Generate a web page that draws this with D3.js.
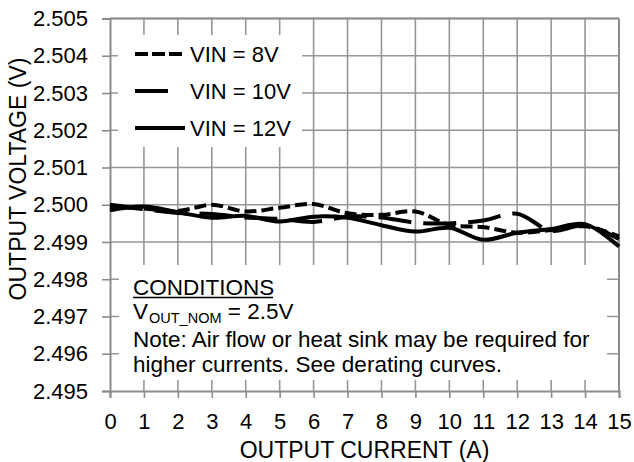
<!DOCTYPE html>
<html>
<head>
<meta charset="utf-8">
<script src="https://cdn.jsdelivr.net/npm/d3@7"></script>
<style>
    body { margin: 0; background: #fff; }
    text { font-family: Arial, "Liberation Sans", sans-serif; fill: #000; }
</style>
</head>
<body>
<svg id="chart" width="634" height="462"></svg>
<script>

// data
var currents = [0, 1, 2, 3, 4, 5, 6, 7, 8, 9, 10, 11, 12, 13, 14, 15];
var vin8  = [2.49995, 2.49990, 2.49983, 2.50000, 2.49982, 2.49992, 2.50002, 2.49977, 2.49973, 2.49982, 2.49946, 2.49940, 2.49925, 2.49932, 2.49942, 2.49915];
var vin10 = [2.50000, 2.49988, 2.49978, 2.49975, 2.49966, 2.49962, 2.49954, 2.49968, 2.49966, 2.49952, 2.49950, 2.49958, 2.49976, 2.49930, 2.49945, 2.49908];
var vin12 = [2.49985, 2.49995, 2.49980, 2.49965, 2.49970, 2.49955, 2.49968, 2.49965, 2.49945, 2.49928, 2.49938, 2.49906, 2.49925, 2.49935, 2.49948, 2.49888];
var xTicks = d3.range(0, 16);
var yTicks = [2.495, 2.496, 2.497, 2.498, 2.499, 2.500, 2.501, 2.502, 2.503, 2.504, 2.505];
var legendNames = ["VIN = 8V", "VIN = 10V", "VIN = 12V"];

var series = [
    { name: legendNames[0], values: vin8,  dash: "12,5" },
    { name: legendNames[1], values: vin10, dash: "33,12" },
    { name: legendNames[2], values: vin12, dash: null }
];

var plotLeft = 110, plotRight = 619, plotTop = 18.5, plotBottom = 391;

var svg = d3.select("#chart");

var x = d3.scaleLinear().domain([0, 15]).range([plotLeft, plotRight]);
var y = d3.scaleLinear().domain([2.495, 2.505]).range([plotBottom, plotTop]);

// grid
var grid = svg.append("g");
grid.selectAll("line.v")
    .data(xTicks.slice(1))
    .enter().append("line")
    .attr("x1", function(d) { return x(d); })
    .attr("x2", function(d) { return x(d); })
    .attr("y1", plotTop).attr("y2", plotBottom)
    .style("stroke", "#969696").style("stroke-width", 1.6);
grid.selectAll("line.h")
    .data(yTicks.slice(1))
    .enter().append("line")
    .attr("x1", plotLeft).attr("x2", plotRight)
    .attr("y1", function(d) { return y(d); })
    .attr("y2", function(d) { return y(d); })
    .style("stroke", "#969696").style("stroke-width", 1.6);

// white boxes behind legend and notes
svg.append("rect").attr("x", 118).attr("y", 35).attr("width", 184).attr("height", 112).style("fill", "#fff");
svg.append("rect").attr("x", 119).attr("y", 265).attr("width", 488).attr("height", 115).style("fill", "#fff");

// axes
var xAxis = d3.axisBottom(x).tickValues(xTicks).tickSize(7).tickPadding(15).tickFormat(d3.format("d"));
var yAxis = d3.axisLeft(y).tickValues(yTicks).tickSize(8).tickPadding(14).tickFormat(d3.format(".3f"));

var gx = svg.append("g").attr("transform", "translate(0," + plotBottom + ")").call(xAxis);
var gy = svg.append("g").attr("transform", "translate(" + plotLeft + ",0)").call(yAxis);

[gx, gy].forEach(function(g) {
    g.select(".domain").style("stroke", "#8c8c8c").style("stroke-width", 2);
    g.selectAll(".tick line").style("stroke", "#8c8c8c").style("stroke-width", 1.6);
    g.selectAll(".tick text").style("font-size", "22px").style("font-family", "Arial, 'Liberation Sans', sans-serif").attr("fill", "#000");
});

// right and top border
svg.append("line").attr("x1", plotRight).attr("x2", plotRight).attr("y1", plotTop).attr("y2", plotBottom)
    .style("stroke", "#8c8c8c").style("stroke-width", 2);
svg.append("line").attr("x1", plotLeft).attr("x2", plotRight).attr("y1", plotTop).attr("y2", plotTop)
    .style("stroke", "#8c8c8c").style("stroke-width", 2);

// curves
var line = d3.line()
    .x(function(d, i) { return x(currents[i]); })
    .y(function(d) { return y(d); })
    .curve(d3.curveCatmullRom.alpha(0.5));

svg.selectAll("path.curve")
    .data(series)
    .enter().append("path")
    .attr("class", "curve")
    .attr("d", function(s) { return line(s.values); })
    .style("fill", "none")
    .style("stroke", "#000")
    .style("stroke-width", 4)
    .style("stroke-dasharray", function(s) { return s.dash; });

// legend
var legendLen = [47, 33, 50];
var legend = svg.selectAll("g.legend")
    .data(series)
    .enter().append("g")
    .attr("transform", function(d, i) { return "translate(135," + (54 + i * 37) + ")"; });
legend.append("line")
    .attr("x1", 0).attr("x2", function(d, i) { return legendLen[i]; })
    .attr("y1", 0).attr("y2", 0)
    .style("stroke", "#000").style("stroke-width", 4)
    .style("stroke-dasharray", function(s, i) { return i === 0 ? "13,4" : null; });
legend.append("text")
    .attr("x", 55).attr("y", 8)
    .style("font-size", "22px")
    .text(function(d) { return d.name; });

// notes
var notes = svg.append("g").style("font-size", "22.5px");
notes.append("text").attr("x", 133).attr("y", 295).text("CONDITIONS");
notes.append("line").attr("x1", 133).attr("x2", 273).attr("y1", 297.5).attr("y2", 297.5)
    .style("stroke", "#000").style("stroke-width", 1.5);
var vnom = notes.append("text").attr("x", 133).attr("y", 319);
vnom.append("tspan").text("V");
vnom.append("tspan").attr("dx", 1).attr("dy", 4).style("font-size", "14.5px").text("OUT_NOM");
vnom.append("tspan").attr("dy", -4).text(" = 2.5V");
notes.append("text").attr("x", 133).attr("y", 347).text("Note: Air flow or heat sink may be required for");
notes.append("text").attr("x", 133).attr("y", 372).text("higher currents. See derating curves.");

// axis titles
svg.append("text")
    .attr("x", (plotLeft + plotRight) / 2).attr("y", 458)
    .attr("text-anchor", "middle")
    .style("font-size", "23px")
    .text("OUTPUT CURRENT (A)");
svg.append("text")
    .attr("transform", "translate(26,179) rotate(-90)")
    .attr("text-anchor", "middle")
    .style("font-size", "23px")
    .text("OUTPUT VOLTAGE (V)");

</script>
</body>
</html>
